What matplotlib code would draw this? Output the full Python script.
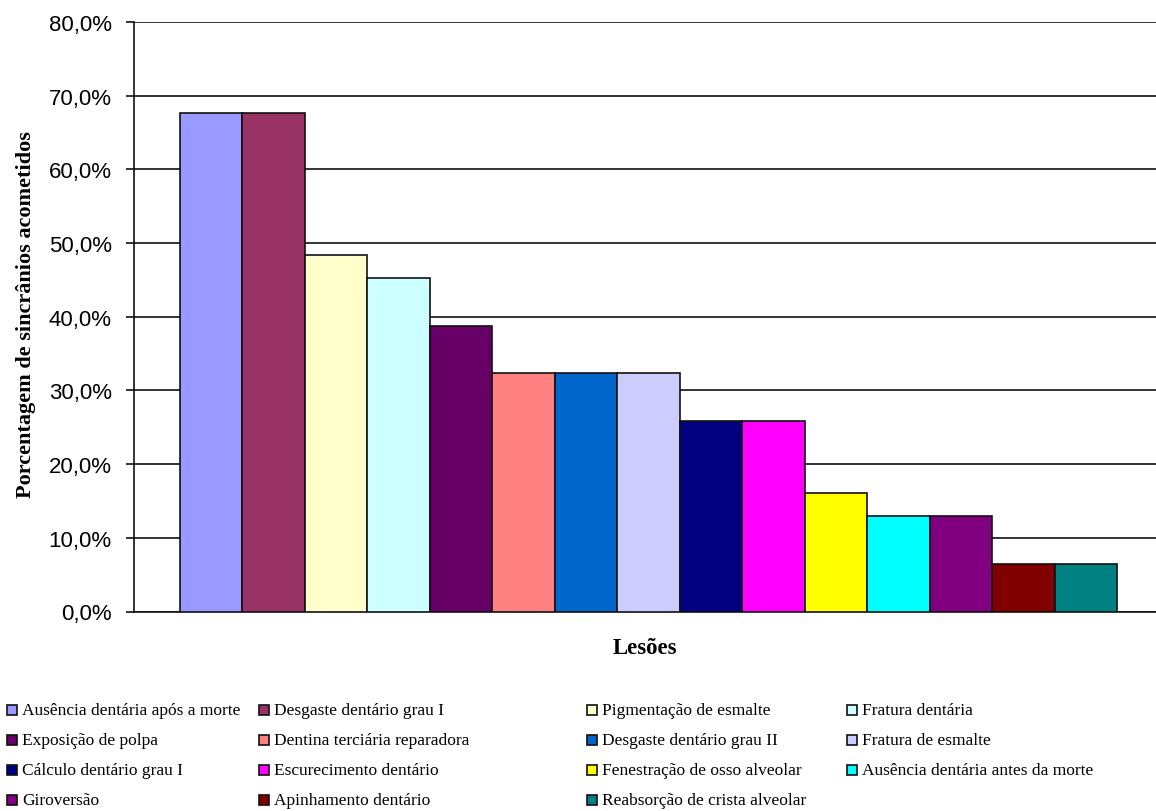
import matplotlib
matplotlib.use("Agg")
import matplotlib.pyplot as plt
from matplotlib.patches import Rectangle
from matplotlib.ticker import FuncFormatter, MultipleLocator

# lesões observadas (percentual de sincrânios, n = 31)
lesoes = [
    "Ausência dentária após a morte",
    "Desgaste dentário grau I",
    "Pigmentação de esmalte",
    "Fratura dentária",
    "Exposição de polpa",
    "Dentina terciária reparadora",
    "Desgaste dentário grau II",
    "Fratura de esmalte",
    "Cálculo dentário grau I",
    "Escurecimento dentário",
    "Fenestração de osso alveolar",
    "Ausência dentária antes da morte",
    "Giroversão",
    "Apinhamento dentário",
    "Reabsorção de crista alveolar",
]
percentuais = [67.7, 67.7, 48.4, 45.2, 38.7, 32.3, 32.3, 32.3,
               25.8, 25.8, 16.1, 12.9, 12.9, 6.5, 6.5]
cores = ["#9999FF", "#993366", "#FFFFCC", "#CCFFFF", "#660066",
         "#FF8080", "#0066CC", "#CCCCFF", "#000080", "#FF00FF",
         "#FFFF00", "#00FFFF", "#800080", "#800000", "#008080"]

W, H = 1156, 812
fig = plt.figure(figsize=(W / 100, H / 100), dpi=100)
ax = fig.add_axes([134 / W, 1 - 612.5 / H, 1 - 134 / W, (612.5 - 23) / H])

x = list(range(len(percentuais)))
ax.bar(x, percentuais, width=1.0, color=cores, edgecolor="#111111",
       linewidth=1.2, zorder=3)

ax.set_xlim(-1.236, 15.124)
ax.set_ylim(0, 80)
ax.yaxis.set_major_locator(MultipleLocator(10))
ax.yaxis.set_major_formatter(FuncFormatter(lambda v, p: f"{v:.1f}%".replace(".", ",")))
ax.grid(axis="y", color="#111111", linewidth=1.2, zorder=0)
ax.set_xticks([])

for s in ("top", "right"):
    ax.spines[s].set_visible(False)
for s in ("left", "bottom"):
    ax.spines[s].set_color("#111111")
    ax.spines[s].set_linewidth(1.2)

ax.tick_params(axis="y", direction="out", length=6, width=1.2, color="#111111",
               pad=10, labelsize=16)
for t in ax.get_yticklabels():
    t.set_fontfamily("Liberation Sans")

# títulos dos eixos
fig.text(26 / W, 1 - 315 / H, "Porcentagem de sincrânios acometidos",
         fontfamily="Liberation Serif", fontweight="bold", fontsize=16,
         rotation=90, ha="center", va="center")
fig.text(645 / W, 1 - 648 / H, "Lesões", fontfamily="Liberation Serif",
         fontweight="bold", fontsize=16.5, ha="center", va="center")

# legenda em 4 colunas
col_x = [7, 259, 587, 847]
row_y = [711, 741, 771, 801]
sq = 10
for i, (nome, cor) in enumerate(zip(lesoes, cores)):
    cx = col_x[i % 4]
    cy = row_y[i // 4]
    fig.patches.append(Rectangle((cx / W, 1 - (cy + sq / 2) / H), sq / W, sq / H,
                                 transform=fig.transFigure, facecolor=cor,
                                 edgecolor="#111111", linewidth=1.2))
    fig.text((cx + sq + 5) / W, 1 - cy / H, nome, fontfamily="Liberation Serif",
             fontsize=12.5, ha="left", va="center")

fig.savefig("out.png", dpi=100)
